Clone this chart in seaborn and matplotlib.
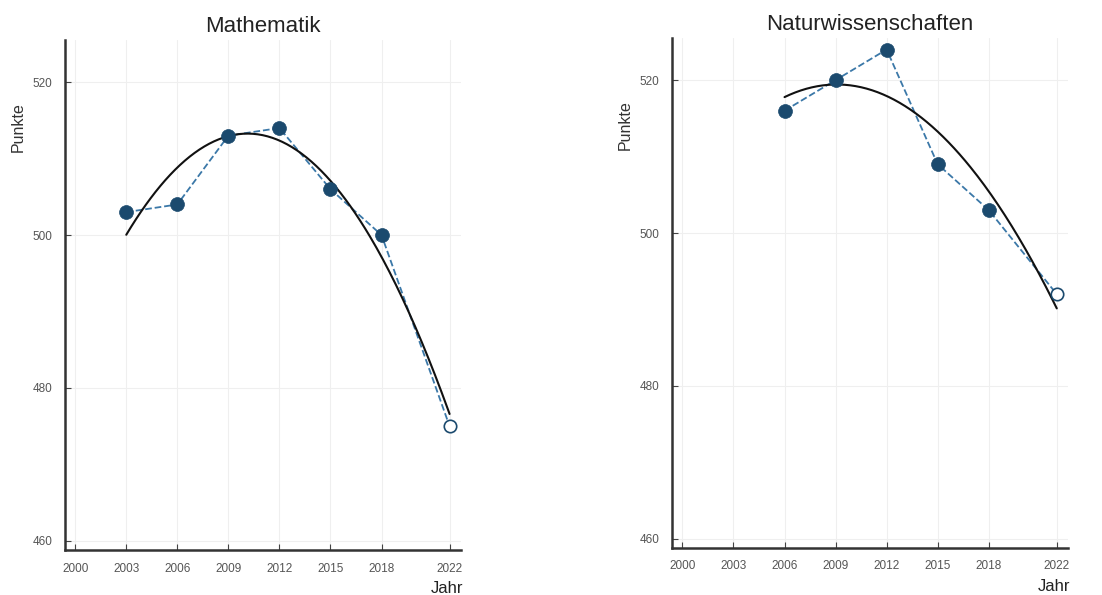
import numpy as np
import pandas as pd
import matplotlib
matplotlib.use("Agg")
import matplotlib.pyplot as plt
import seaborn as sns

# PISA-Ergebnisse Deutschland
math_years = [2003, 2006, 2009, 2012, 2015, 2018, 2022]
math_points = [503, 504, 513, 514, 506, 500, 475]

sci_years = [2006, 2009, 2012, 2015, 2018, 2022]
sci_points = [516, 520, 524, 509, 503, 492]

xticks = [2000, 2003, 2006, 2009, 2012, 2015, 2018, 2022]
yticks = [460, 480, 500, 520]

sns.set_style("whitegrid", {"grid.color": "#ececec", "axes.edgecolor": "#333333"})
plt.rcParams['font.family'] = ['Liberation Sans', 'DejaVu Sans']

fig = plt.figure(figsize=(11.02, 5.95), dpi=100)
ax1 = fig.add_axes([0.059, 0.0756, 0.359, 0.857])
ax2 = fig.add_axes([0.610, 0.079, 0.359, 0.857])

line_col = "#3b78a8"
dot_col = "#1b4a6e"


def draw(ax, years, points, title):
    df = pd.DataFrame({"Jahr": years, "Punkte": points})
    sns.lineplot(data=df, x="Jahr", y="Punkte", ax=ax, color=line_col,
                 linestyle="--", linewidth=1.3, zorder=2)
    # quadratischer Trend
    coef = np.polyfit(years, points, 2)
    xs = np.linspace(years[0], years[-1], 200)
    fit = pd.DataFrame({"Jahr": xs, "Punkte": np.polyval(coef, xs)})
    sns.lineplot(data=fit, x="Jahr", y="Punkte", ax=ax, color="#111111",
                 linewidth=1.5, zorder=3)
    sns.scatterplot(data=df.iloc[:-1], x="Jahr", y="Punkte", ax=ax, color=dot_col,
                    s=100, edgecolor=dot_col, linewidth=0.5, zorder=4)
    sns.scatterplot(data=df.iloc[-1:], x="Jahr", y="Punkte", ax=ax, color="white",
                    s=80, edgecolor=dot_col, linewidth=1.2, zorder=4)

    ax.set_xlim(1999.4, 2022.65)
    ax.set_ylim(458.8, 525.5)
    ax.set_xticks(xticks)
    ax.set_yticks(yticks)
    ax.tick_params(direction="in", length=4, width=0.8, colors="#444444",
                   labelsize=8.5, labelcolor="#555555", left=True, bottom=True)
    ax.tick_params(axis="x", pad=9)
    ax.tick_params(axis="y", pad=9)
    for s in ["top", "right"]:
        ax.spines[s].set_visible(False)
    for s in ["left", "bottom"]:
        ax.spines[s].set_linewidth(1.8)
        ax.spines[s].set_color("#333333")
    ax.grid(True, color="#efefef", linewidth=0.8)
    ax.set_title(title, fontsize=16, color="#222222", pad=6)
    ax.set_xlabel("Jahr", fontsize=12, color="#222222")
    ax.xaxis.set_label_coords(0.965, -0.06)
    ax.set_ylabel("Punkte", fontsize=11.5, color="#333333")
    ax.yaxis.set_label_coords(-0.1, 0.83)


draw(ax1, math_years, math_points, "Mathematik")
draw(ax2, sci_years, sci_points, "Naturwissenschaften")

fig.savefig("out.png", dpi=100)
